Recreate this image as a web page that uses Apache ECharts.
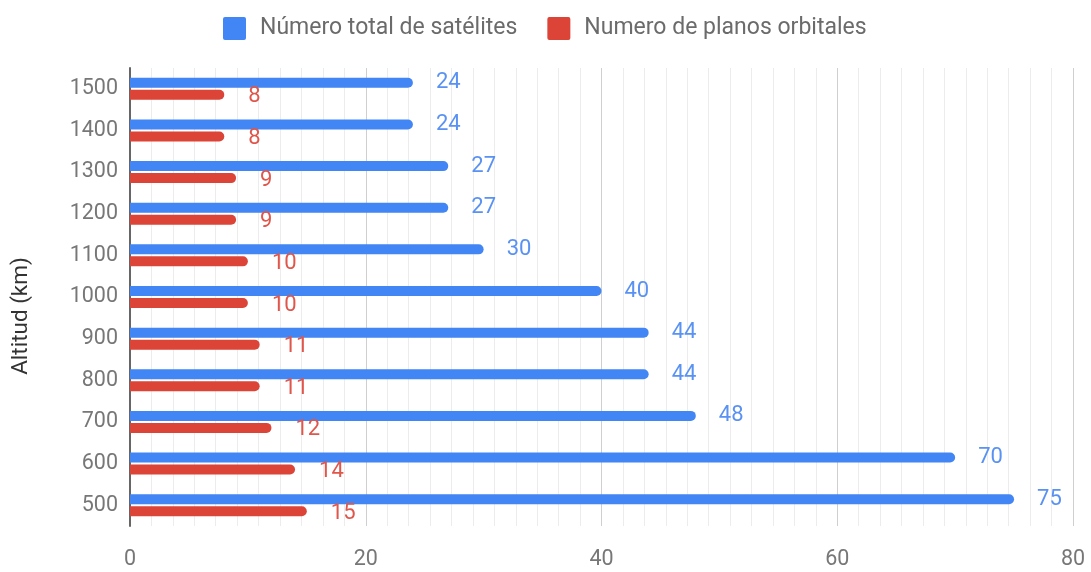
<!DOCTYPE html>
<html>
<head>
<meta charset="utf-8">
<script src="https://cdn.jsdelivr.net/npm/echarts@6/dist/echarts.min.js"></script>
<style>
html,body{margin:0;padding:0;background:#fff;}
#chart{width:1091px;height:572px;}
</style>
</head>
<body>
<div id="chart"></div>
<script>
const categories = ['500','600','700','800','900','1000','1100','1200','1300','1400','1500'];
const totalSatellites = [75, 70, 48, 44, 44, 40, 30, 27, 27, 24, 24];
const orbitalPlanes = [15, 14, 12, 11, 11, 10, 10, 9, 9, 8, 8];
const xTicks = [0, 20, 40, 60, 80];
const seriesNames = ['Número total de satélites', 'Numero de planos orbitales'];
const axisName = 'Altitud (km)';

const FONT = 'Roboto';
const chart = echarts.init(document.getElementById('chart'), null, {renderer: 'canvas'});
chart.setOption({
  animation: false,
  textStyle: {fontFamily: FONT},
  legend: {
    top: 12,
    left: 218,
    itemWidth: 23,
    itemHeight: 23,
    itemGap: 30,
    icon: 'path://M2,0 L21,0 Q23,0 23,2 L23,21 Q23,23 21,23 L2,23 Q0,23 0,21 L0,2 Q0,0 2,0 Z',
    textStyle: {fontFamily: FONT, fontSize: 23, color: '#6b6b6b', padding: [0, 0, 0, 9]},
    data: seriesNames
  },
  grid: {left: 130, right: 18, top: 68, bottom: 46, containLabel: false},
  xAxis: {
    type: 'value',
    min: xTicks[0],
    max: xTicks[xTicks.length - 1],
    interval: 20,
    axisLine: {show: false},
    axisTick: {show: false},
    axisLabel: {fontFamily: FONT, fontSize: 21.5, color: '#777', margin: 23},
    splitLine: {show: true, lineStyle: {color: '#cfcfcf', width: 1}},
    minorTick: {show: false, splitNumber: 11},
    minorSplitLine: {show: true, lineStyle: {color: '#ececec', width: 1}}
  },
  yAxis: {
    type: 'category',
    data: categories,
    axisLine: {show: true, lineStyle: {color: '#666', width: 2}},
    axisTick: {show: false},
    axisLabel: {fontFamily: FONT, fontSize: 21.5, color: '#777', margin: 12},
    splitLine: {show: false},
    name: axisName,
    nameLocation: 'middle',
    nameGap: 97,
    nameTextStyle: {fontFamily: FONT, fontSize: 22.5, color: '#333', padding: [0, 38, 0, 0]}
  },
  series: [
    {
      name: seriesNames[0],
      type: 'bar',
      data: totalSatellites,
      barWidth: 10,
      barGap: '20%',
      itemStyle: {color: '#4285f4', borderRadius: [0, 5, 5, 0]},
      label: {show: true, position: 'right', distance: 23, fontFamily: FONT, fontSize: 22, color: '#5a92f3'}
    },
    {
      name: seriesNames[1],
      type: 'bar',
      data: orbitalPlanes,
      barWidth: 10,
      barGap: '20%',
      itemStyle: {color: '#db4437', borderRadius: [0, 5, 5, 0]},
      label: {show: true, position: 'right', distance: 24, fontFamily: FONT, fontSize: 22, color: '#e0564b', offset: [0, 2]}
    }
  ]
});
</script>
</body>
</html>
